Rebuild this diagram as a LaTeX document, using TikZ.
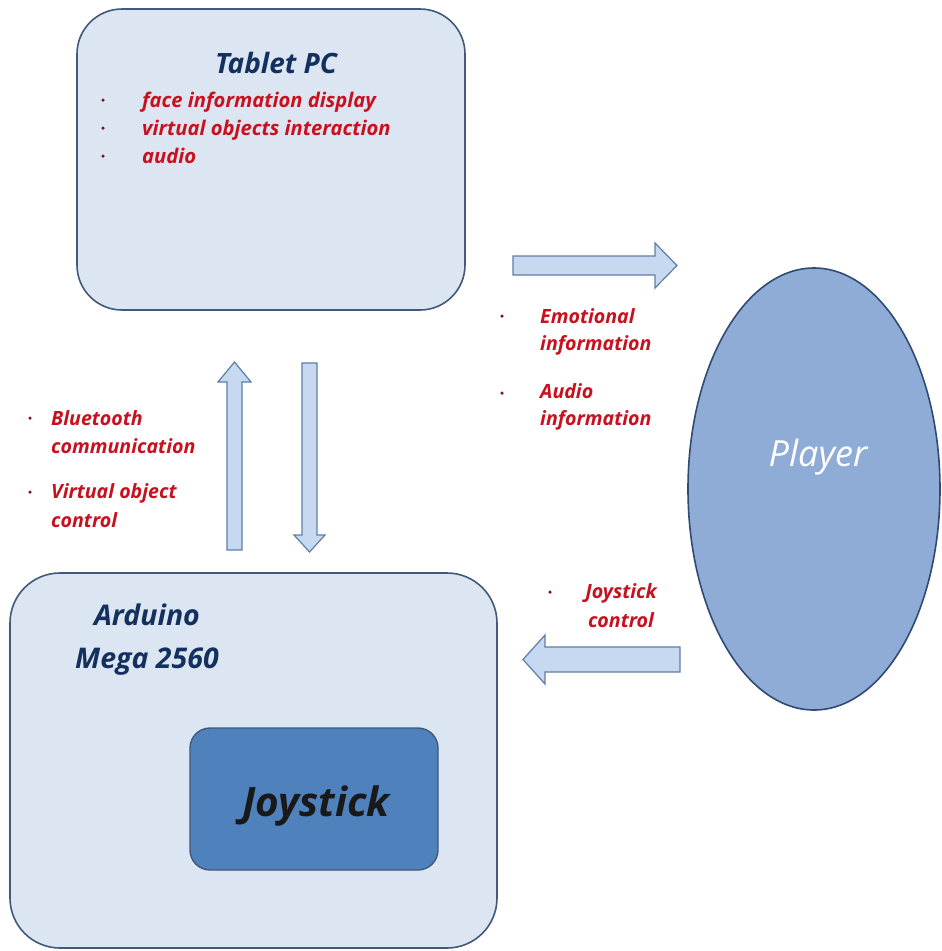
\documentclass[tikz,border=0pt]{standalone}
\usepackage{fontspec}
\setmainfont{Open Sans}
\usetikzlibrary{shapes.geometric}
\definecolor{boxfill}{HTML}{DCE6F2}
\definecolor{boxline}{HTML}{41597A}
\definecolor{arrfill}{HTML}{C6D9F1}
\definecolor{arrline}{HTML}{5E7EA6}
\definecolor{plfill}{HTML}{8FACD6}
\definecolor{plline}{HTML}{2F4B73}
\definecolor{joyfill}{HTML}{4F81BD}
\definecolor{navy}{HTML}{14305E}
\definecolor{redtxt}{HTML}{C8101E}
\tikzset{
  bigbox/.style={draw=boxline, line width=1.6pt, fill=boxfill},
  blockarrow/.style={draw=arrline, line width=1.2pt, fill=arrfill, line join=miter},
  redlbl/.style={text=redtxt, font=\fontsize{19.6}{27}\selectfont\bfseries\itshape, anchor=base west, inner sep=0pt},
  tablbl/.style={redlbl, font=\fontsize{20.2}{27}\selectfont\bfseries\itshape},
  bul/.style={circle, fill=redtxt!70!black, inner sep=0pt, minimum size=3.5pt}
}
\begin{document}
\begin{tikzpicture}[x=1pt,y=-1pt]
\useasboundingbox (0,0) rectangle (942,951);
\fill[white] (0,0) rectangle (942,951);
% boxes
\draw[bigbox, rounded corners=45pt] (77,9) rectangle (465,310);
\node[text=navy, font=\fontsize{28}{28}\selectfont\bfseries\itshape, inner sep=0pt, anchor=base] (tabt) at (276,73) {Tablet PC};
\node[tablbl] (t1) at (142,107) {face information display};
\node[tablbl] (t2) at (142,135) {virtual objects interaction};
\node[tablbl] (t3) at (142,163) {audio};
\node[bul] (b1) at (103,100) {};
\node[bul] (b2) at (103,128) {};
\node[bul] (b3) at (103,156) {};

\draw[bigbox, rounded corners=50pt] (10,573) rectangle (497,948);
\node[text=navy, font=\fontsize{28.5}{28}\selectfont\bfseries\itshape, inner sep=0pt, anchor=base] (ard1) at (147,625) {Arduino};
\node[text=navy, font=\fontsize{28.5}{28}\selectfont\bfseries\itshape, inner sep=0pt, anchor=base] (ard2) at (147,668) {Mega 2560};
\draw[draw=boxline, line width=1.4pt, fill=joyfill, rounded corners=20pt] (190,728) rectangle (438,870);
\node[text=black!90, font=\fontsize{40.5}{40}\selectfont\bfseries\itshape, inner sep=0pt, anchor=base] (joy) at (316,816) {Joystick};

% player
\node[ellipse, draw=plline, line width=1.6pt, fill=plfill, minimum width=252pt, minimum height=442pt, inner sep=0pt] (pl) at (814,489) {};
\node[text=white, font=\fontsize{36}{36}\selectfont\itshape, inner sep=0pt] (plt) at (818,457) {Player};

% block arrows
\draw[blockarrow] (513,256) -- (655,256) -- (655,243) -- (677,265.5) -- (655,288) -- (655,275) -- (513,275) -- cycle;
\draw[blockarrow] (227,550) -- (227,382) -- (218,382) -- (234.5,362) -- (251,382) -- (242,382) -- (242,550) -- cycle;
\draw[blockarrow] (302,363) -- (302,535) -- (294,535) -- (309.5,552) -- (325,535) -- (317,535) -- (317,363) -- cycle;
\draw[blockarrow] (680,647) -- (545,647) -- (545,635) -- (523,659.5) -- (545,684) -- (545,672) -- (680,672) -- cycle;

% labels
\node[redlbl] (bt1) at (51,425) {Bluetooth};
\node[redlbl] (bt2) at (51,453) {communication};
\node[redlbl] (vo1) at (51,498) {Virtual object};
\node[redlbl] (vo2) at (51,527) {control};
\node[bul] (b4) at (30,418) {};
\node[bul] (b5) at (30,492) {};

\node[redlbl] (em1) at (540,323) {Emotional};
\node[redlbl] (em2) at (540,350) {information};
\node[redlbl] (au1) at (540,398) {Audio};
\node[redlbl] (au2) at (540,425) {information};
\node[bul] (b6) at (502,316) {};
\node[bul] (b7) at (502,393) {};

\node[redlbl, anchor=base] (jc1) at (621,598) {Joystick};
\node[redlbl, anchor=base] (jc2) at (621,627) {control};
\node[bul] (b8) at (550,592) {};
\end{tikzpicture}
\end{document}
